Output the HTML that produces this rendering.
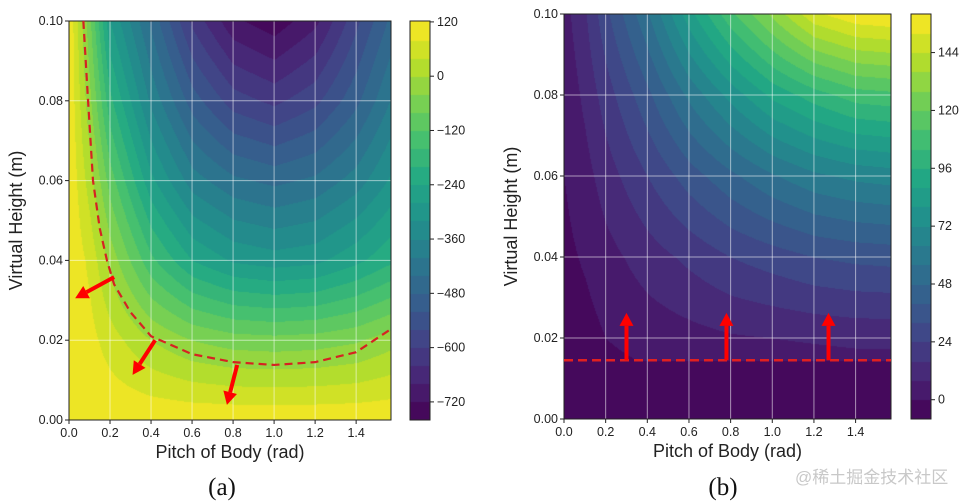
<!DOCTYPE html>
<html><head><meta charset="utf-8">
<style>
html,body{margin:0;padding:0;background:#fff;}
#wrap{position:relative;width:969px;height:503px;overflow:hidden;font-family:"Liberation Sans",sans-serif;}
canvas{position:absolute;}
svg{position:absolute;left:0;top:0;}
</style></head>
<body>
<div id="wrap">
<canvas id="fa" width="322" height="399" style="left:69px;top:21px"></canvas>
<canvas id="ca" width="20" height="399" style="left:410px;top:21px"></canvas>
<canvas id="fb" width="327" height="405" style="left:564px;top:14px"></canvas>
<canvas id="cb" width="20" height="405" style="left:911px;top:14px"></canvas>
<svg id="ov" width="969" height="503"></svg>
</div>
<script>
// ---- data ----
const gridX = [0,0.1,0.2,0.4,0.6,0.8,1.0,1.2,1.4,1.6];
const gridY = [0,0.02,0.04,0.06,0.08,0.1];
const fieldA = [
 [115,115,115,115,115,115,115,115,115,115],
 [115,95,60,0,-40,-60,-65,-60,-45,-10],
 [115,70,-15,-150,-240,-285,-300,-290,-250,-200],
 [115,20,-100,-270,-380,-430,-450,-430,-380,-300],
 [115,-30,-190,-370,-500,-580,-610,-570,-490,-380],
 [115,-70,-280,-450,-610,-710,-745,-690,-570,-450]];
const fieldB = [
 [-6,-6,-6,-6,-6,-6,-6,-6,-6,-6],
 [-4,-3,0,3,5,7,8,9,10,10],
 [-2,1,5,12,18,24,28,32,34,35],
 [0,5,12,24,36,46,55,62,66,68],
 [2,10,20,38,58,75,90,100,108,110],
 [5,15,30,55,85,110,130,150,158,160]];
const ticksX = [0,0.2,0.4,0.6,0.8,1.0,1.2,1.4];
const ticksXLabels = ["0.0","0.2","0.4","0.6","0.8","1.0","1.2","1.4"];
const ticksY = [0,0.02,0.04,0.06,0.08,0.1];
const ticksYLabels = ["0.00","0.02","0.04","0.06","0.08","0.10"];
const cbTicksA = [120,0,-120,-240,-360,-480,-600,-720];
const cbTicksB = [144,120,96,72,48,24,0];
const boundaryA = [[0.07,0.1],[0.093,0.08],[0.117,0.06],[0.15,0.048],[0.185,0.04],[0.22,0.034],[0.3,0.027],[0.4,0.021],[0.6,0.0165],[0.8,0.0145],[1.0,0.0138],[1.2,0.0145],[1.4,0.017],[1.57,0.0228]];
const arrowsA = [[0.22,0.0358,0.03,0.0305],[0.42,0.020,0.31,0.0113],[0.82,0.0138,0.77,0.0038]];
const boundaryB = 0.0145;
const arrowsB = [[0.3,0.0145,0.3,0.0262],[0.78,0.0145,0.78,0.0262],[1.27,0.0145,1.27,0.0262]];

// ---- viridis ----
const VS=[[68,1,84],[72,36,117],[65,68,135],[53,95,141],[42,120,142],[33,145,140],[34,168,132],[68,191,112],[122,209,81],[189,223,38],[253,231,37]];
function vir(t){t=Math.max(0,Math.min(1,t));const p=t*(VS.length-1),i=Math.min(VS.length-2,Math.floor(p)),f=p-i;
 return VS[i].map((c,k)=>Math.round(c+(VS[i+1][k]-c)*f));}
function sample(F,x,y){
 let i=0;while(i<gridX.length-2&&x>gridX[i+1])i++;
 let j=0;while(j<gridY.length-2&&y>gridY[j+1])j++;
 const fx=(x-gridX[i])/(gridX[i+1]-gridX[i]),fy=(y-gridY[j])/(gridY[j+1]-gridY[j]);
 const a=F[j][i]+(F[j][i+1]-F[j][i])*fx,b=F[j+1][i]+(F[j+1][i+1]-F[j+1][i])*fx;return a+(b-a)*fy;}
function drawField(id,F,xmax,vmin,vmax,step,flat){
 const c=document.getElementById(id),ctx=c.getContext('2d'),W=c.width,H=c.height,img=ctx.createImageData(W,H);
 for(let py=0;py<H;py++)for(let px=0;px<W;px++){
  const x=px/W*xmax,y=0.1*(1-py/H);let v=sample(F,x,y);
  if(flat!==undefined&&y<flat)v=vmin+2;
  const q=Math.floor((v-vmin)/step)*step+vmin+step/2;const col=vir((q-vmin)/(vmax-vmin));
  const k=(py*W+px)*4;img.data[k]=col[0];img.data[k+1]=col[1];img.data[k+2]=col[2];img.data[k+3]=255;}
 ctx.putImageData(img,0,0);}
function drawBar(id,vmin,vmax,step){
 const c=document.getElementById(id),ctx=c.getContext('2d'),H=c.height;
 for(let py=0;py<H;py++){const v=vmax-(py/H)*(vmax-vmin);const q=Math.floor((v-vmin)/step)*step+vmin+step/2;
  const col=vir((q-vmin)/(vmax-vmin));ctx.fillStyle=`rgb(${col})`;ctx.fillRect(0,py,c.width,1);}}
drawField('fa',fieldA,1.57,-760,122,40);
drawBar('ca',-760,122,40);
drawField('fb',fieldB,1.57,-8,160,8,0.0145);
drawBar('cb',-8,160,8);

// ---- overlay ----
const NS='http://www.w3.org/2000/svg',ov=document.getElementById('ov');
function el(t,a,txt){const e=document.createElementNS(NS,t);for(const k in a)e.setAttribute(k,a[k]);if(txt!==undefined)e.textContent=txt;ov.appendChild(e);return e;}
function panel(P){
 const sx=v=>P.x0+(P.x1-P.x0)*v/1.57, sy=v=>P.y1-(P.y1-P.y0)*v/0.1;
 ticksX.forEach((t,i)=>{const g=el('line',{x1:sx(t),x2:sx(t),y1:P.y0,y2:P.y1,stroke:'rgba(255,255,255,0.55)','stroke-width':1});
  
  el('line',{x1:sx(t),x2:sx(t),y1:P.y1,y2:P.y1+4,stroke:'#222'});
  const l=el('text',{x:sx(t),y:P.y1+17,'font-size':12.5,'text-anchor':'middle',fill:'#222'},ticksXLabels[i]);
  });
 ticksY.forEach((t,i)=>{const g=el('line',{x1:P.x0,x2:P.x1,y1:sy(t),y2:sy(t),stroke:'rgba(255,255,255,0.55)','stroke-width':1});
  
  el('line',{x1:P.x0-4,x2:P.x0,y1:sy(t),y2:sy(t),stroke:'#222'});
  const l=el('text',{x:P.x0-6,y:sy(t)+4,'font-size':12.5,'text-anchor':'end',fill:'#222'},ticksYLabels[i]);
  });
 el('rect',{x:P.x0,y:P.y0,width:P.x1-P.x0,height:P.y1-P.y0,fill:'none',stroke:'#222','stroke-width':1});
 const xt=el('text',{x:(P.x0+P.x1)/2,y:P.y1+38,'font-size':18,'text-anchor':'middle',fill:'#222'},'Pitch of Body (rad)');
 
 const yt=el('text',{x:0,y:0,'font-size':18,'text-anchor':'middle',fill:'#222',transform:`translate(${P.x0-47},${(P.y0+P.y1)/2}) rotate(-90)`},'Virtual Height (m)');
 
 const cbs=v=>P.cy1-(P.cy1-P.y0)*(v-P.vmin)/(P.vmax-P.vmin);
 el('rect',{x:P.cx,y:P.y0,width:20,height:P.cy1-P.y0,fill:'none',stroke:'#222'});
 P.cbt.forEach(t=>{el('line',{x1:P.cx+20,x2:P.cx+24,y1:cbs(t),y2:cbs(t),stroke:'#222'});
  const l=el('text',{x:P.cx+27,y:cbs(t)+4,'font-size':12.5,fill:'#222'},t<0?'\u2212'+(-t):String(t));
  });
 const cap=el('text',{x:P.capx,y:495,'font-size':25,'text-anchor':'middle','font-family':'Liberation Serif, serif',fill:'#111'},P.cap);
 
 return {sx,sy};}
function arrow(x1,y1,x2,y2){
 const dx=x2-x1,dy=y2-y1,L=Math.hypot(dx,dy),ux=dx/L,uy=dy/L,hl=13,hw=7;
 const bx=x2-ux*hl,by=y2-uy*hl;
 const s=el('line',{x1,y1,x2:bx,y2:by,stroke:'#f00','stroke-width':4});
 
 const h=el('polygon',{points:`${x2},${y2} ${bx-uy*hw},${by+ux*hw} ${bx+uy*hw},${by-ux*hw}`,fill:'#f00'});
 }
const A=panel({x0:69,x1:391,y0:21,y1:420,cx:410,cy1:420,vmin:-760,vmax:122,cbt:cbTicksA,cap:'(a)',capx:222});
const pa=el('polyline',{points:boundaryA.map(p=>A.sx(p[0])+','+A.sy(p[1])).join(' '),fill:'none',stroke:'#d62222','stroke-width':2.2,'stroke-dasharray':'8,5'});

arrowsA.forEach(a=>arrow(A.sx(a[0]),A.sy(a[1]),A.sx(a[2]),A.sy(a[3])));
const B=panel({x0:564,x1:891,y0:14,y1:419,cx:911,cy1:419,vmin:-8,vmax:160,cbt:cbTicksB,cap:'(b)',capx:723});
const pb=el('line',{x1:564,x2:891,y1:B.sy(boundaryB),y2:B.sy(boundaryB),stroke:'#e02020','stroke-width':2.5,'stroke-dasharray':'9,5'});

arrowsB.forEach(a=>arrow(B.sx(a[0]),B.sy(a[1]),B.sx(a[2]),B.sy(a[3])));
const wm=el('text',{x:795,y:483,'font-size':17,fill:'#c8c8c8','font-family':'Liberation Sans, Noto Sans CJK SC, sans-serif'},'@稀土掘金技术社区');

</script>
</body></html>
